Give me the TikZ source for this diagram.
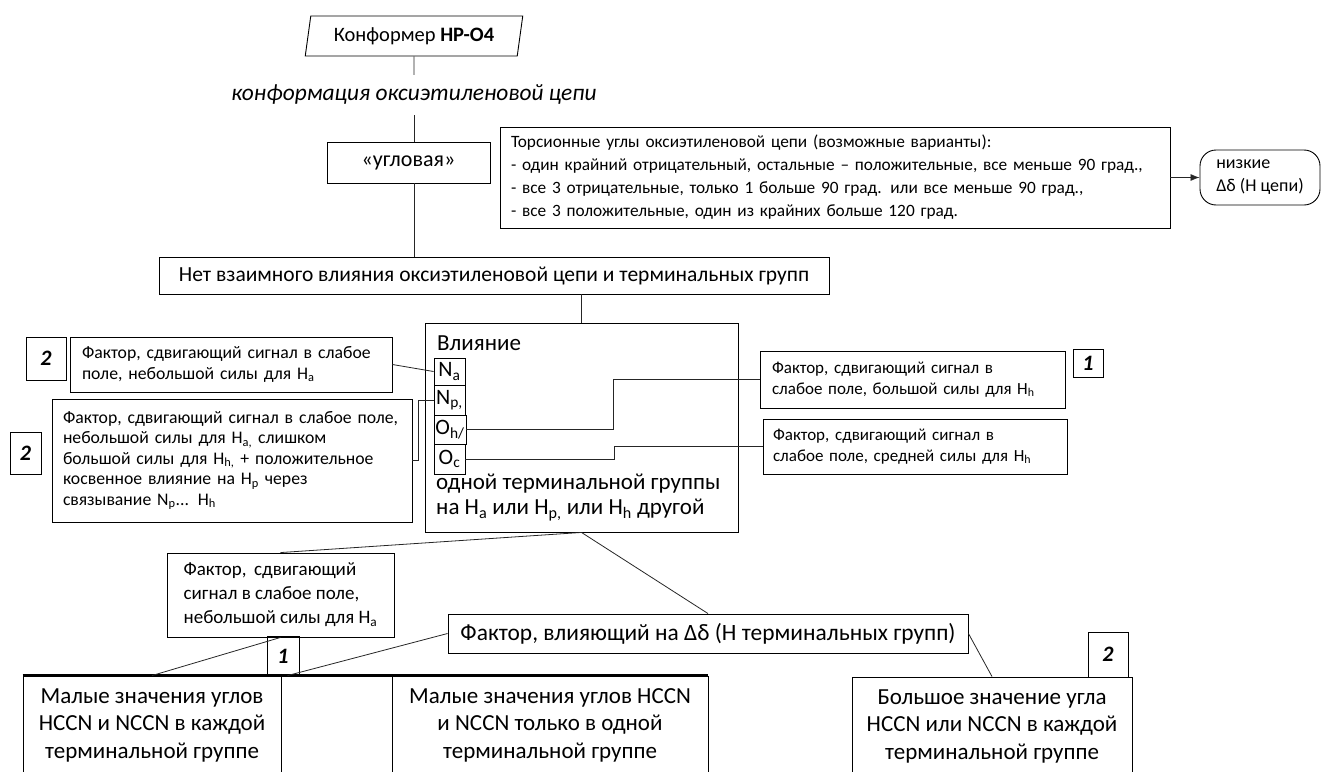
\documentclass[tikz,border=0pt]{standalone}
\usepackage{fontspec}
\setmainfont{Carlito}
\usetikzlibrary{shapes.geometric,arrows.meta}
\pgfkeys{tikz/mybox/.style={draw, rectangle, line width=0.9pt, inner sep=0pt, align=center}}
\pgfkeys{tikz/factbox/.style={mybox, align=left, font=\fontsize{17.7}{20.5}\selectfont}}
\pgfkeys{tikz/numbox/.style={mybox, font=\fontsize{22}{26}\selectfont\bfseries\itshape}}
\pgfkeys{tikz/atombox/.style={mybox, font=\fontsize{22}{24}\selectfont}}
\pgfkeys{tikz/bigbox/.style={mybox, font=\fontsize{23}{27.5}\selectfont}}
\pgfkeys{tikz/link/.style={line width=0.8pt, black!85}}

\begin{document}
\begin{tikzpicture}[x=1pt, y=-1pt]
                \clip (0,0) rectangle (1322,771);
                \node[draw, line width=0.9pt, trapezium, trapezium stretches=true,
                      trapezium left angle=76, trapezium right angle=104,
                      minimum width=218, minimum height=40, inner sep=0pt,
                      font=\fontsize{20.5}{24}\selectfont] (conf) at (414,36) {Конформер \textbf{HP-O4}};
                \node[inner sep=0pt, minimum height=40, font=\fontsize{23.4}{26}\selectfont\itshape] (chain) at (414,95) {конформация оксиэтиленовой цепи};
                \node[mybox, minimum width=163, minimum height=41, font=\fontsize{22}{24}\selectfont] (angular) at (408.5,162.5) {«угловая»};
                \node[mybox, align=left, inner xsep=11pt, text width=648, minimum height=101,
                      font=\fontsize{17.3}{23}\selectfont] (torsion) at (835,177.5)
                      {Торсионные углы оксиэтиленовой цепи (возможные варианты):\\
                       - один крайний отрицательный, остальные – положительные, все меньше 90 град.,\\
                       - все 3 отрицательные, только 1 больше 90 град. или все меньше 90 град.,\\
                       - все 3 положительные, один из крайних больше 120 град.};
                \node[mybox, rounded corners=16pt, align=left, inner xsep=10pt, minimum width=120,
                      minimum height=55, font=\fontsize{18}{23}\selectfont] (low) at (1260,177.5) {низкие\\Δδ (Н цепи)};

                \draw[link] (conf.south) -- (chain.north);
                \draw[link] (chain.south) -- (chain.south |- angular.north);
                \draw[link, -{Latex[length=9pt, width=7pt]}] (torsion.east) -- (low.west);

                \node[mybox, minimum width=670, minimum height=37, font=\fontsize{21.5}{24}\selectfont] (noinfl) at (494,275.5)
                      {Нет взаимного влияния оксиэтиленовой цепи и терминальных групп};
                \draw[link] (chain.south |- angular.south) -- (chain.south |- noinfl.north);

                \node[mybox, minimum width=313, minimum height=209] (infl) at (581.5,427.5) {};
                \node[anchor=west, inner sep=0pt, font=\fontsize{23}{25}\selectfont] (inflhead) at (437,343) {Влияние};
                \node[anchor=west, inner sep=0pt, align=left, font=\fontsize{23}{25}\selectfont] (infltail) at (436,497.5)
                      {одной терминальной группы\\на H\textsubscript{a} или H\textsubscript{p,} или H\textsubscript{h} другой};
                \draw[link] (infl.north) -- (infl.north |- noinfl.south);

                \node[atombox, minimum width=31, minimum height=27] (na) at (449.5,371.5) {N\textsubscript{a}};
                \node[atombox, minimum width=31, minimum height=30] (np) at (449.5,400) {N\textsubscript{p,}};
                \node[atombox, minimum width=32, minimum height=29] (oh) at (450,429.5) {O\textsubscript{h/}};
                \node[atombox, minimum width=31, minimum height=30] (oc) at (449.5,459) {O\textsubscript{c}};

                \node[numbox, minimum width=40, minimum height=43] (num2a) at (46,358.5) {2};
                \node[factbox, inner xsep=12pt, text width=298, minimum height=55] (fa2) at (231,364.5)
                      {Фактор, сдвигающий сигнал в слабое\\ поле, небольшой силы для H\textsubscript{a}};
                \node[numbox, minimum width=31, minimum height=42] (num2b) at (25.5,453) {2};
                \node[factbox, inner xsep=11pt, text width=338, minimum height=123] (fb2) at (232,460.5)
                      {Фактор, сдвигающий сигнал в слабое поле,\\ небольшой силы для H\textsubscript{a,} слишком\\
                       большой силы для H\textsubscript{h,} + положительное\\ косвенное влияние на H\textsubscript{p} через\\
                       связывание N\textsubscript{p}... H\textsubscript{h}};

                \node[factbox, inner xsep=12pt, text width=281, minimum height=57, font=\fontsize{17}{20.5}\selectfont] (fr1) at (912.5,379.5)
                      {Фактор, сдвигающий сигнал в\\ слабое поле, большой силы для H\textsubscript{h}};
                \node[numbox, minimum width=30, minimum height=28] (num1a) at (1088,363) {1};
                \node[factbox, inner xsep=10pt, text width=284, minimum height=55, font=\fontsize{17}{20.5}\selectfont] (fr2) at (915,446.5)
                      {Фактор, сдвигающий сигнал в\\ слабое поле, средней силы для H\textsubscript{h}};

                \draw[link] (fa2.east) -- (na.west);
                \draw[link] (fb2.east) -- ++(6,0) |- (np.west);
                \draw[link] (oh.east) -- ++(147,0) |- (fr1.west);
                \draw[link] (oc.east) -- ++(149,0) |- (fr2.west);

                \node[factbox, minimum width=227, minimum height=84, font=\fontsize{19}{24}\selectfont] (smallf) at (280.5,595)
                      {Фактор,\, сдвигающий\\ сигнал в слабое поле,\\ небольшой силы для H\textsubscript{a}};
                \node[numbox, minimum width=32, minimum height=40] (num1b) at (283,656) {1};
                \node[mybox, minimum width=520, minimum height=39, font=\fontsize{23.4}{26}\selectfont] (deltaf) at (708,633.5)
                      {Фактор, влияющий на Δδ (Н терминальных групп)};
                \node[numbox, minimum width=40, minimum height=45] (num2c) at (1108,654.5) {2};

                \node[bigbox, minimum width=258, minimum height=98] (botA) at (152,725)
                      {Малые значения углов\\ HCCN и NCCN в каждой\\ терминальной группе};
                \node[bigbox, minimum width=111, minimum height=98] (botB) at (336.5,725) {};
                \node[bigbox, minimum width=316, minimum height=98] (botC) at (550,725)
                      {Малые значения углов HCCN\\ и NCCN только в одной\\ терминальной группе};
                \node[bigbox, minimum width=280, minimum height=98] (botD) at (992,726)
                      {Большое значение угла\\ HCCN или NCCN в каждой\\ терминальной группе};
                \draw[line width=2.2pt] (botA.north west) -- (botC.north east);

                \draw[link] (infl.south) -- (smallf.north);
                \draw[link] (infl.south) -- (deltaf.north);
                \draw[link] (smallf.south) -- (botA.north);
                \draw[link] (deltaf.west) -- ([xshift=7pt]botB.north west);
                \draw[link] (deltaf.east) -- (botD.north);
\end{tikzpicture}
\end{document}
